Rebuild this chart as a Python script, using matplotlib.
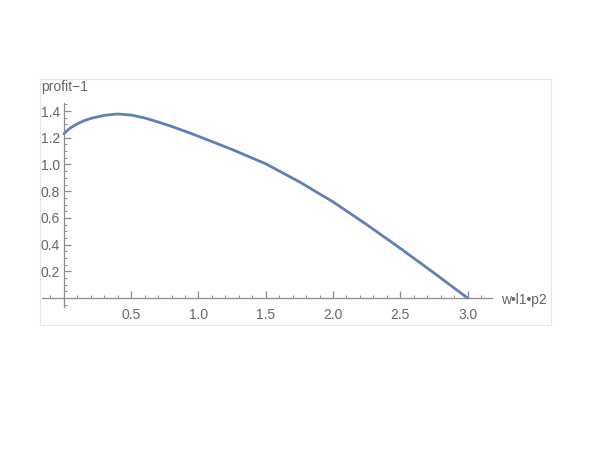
import numpy as np
from matplotlib import pyplot as plt
from matplotlib.ticker import FixedLocator
from matplotlib.patches import Rectangle

# values
x_vals = [0.0, 0.025, 0.05, 0.1, 0.15, 0.2, 0.3, 0.4, 0.5, 0.6, 0.7, 0.8, 0.9, 1.0,
          1.25, 1.5, 1.75, 2.0, 2.25, 2.5, 2.75, 3.0]
y_vals = [1.23, 1.255, 1.275, 1.305, 1.328, 1.345, 1.368, 1.378, 1.370, 1.348, 1.318, 1.285, 1.249, 1.211,
          1.112, 1.005, 0.870, 0.720, 0.550, 0.372, 0.188, 0.0]

x_major = [0.5, 1.0, 1.5, 2.0, 2.5, 3.0]
y_major = [0.2, 0.4, 0.6, 0.8, 1.0, 1.2, 1.4]

plt.rcParams['font.family'] = ['Liberation Sans', 'DejaVu Sans']

W, H = 600, 450
fig = plt.figure(figsize=(6, 4.5), dpi=100)

# faint frame around the plot region
fig.patches.append(Rectangle((40 / W, 1 - 325 / H), 511 / W, 246 / H, transform=fig.transFigure,
                             fill=False, edgecolor='#e6e6e6', linewidth=0.8))

ax = fig.add_axes([40 / W, 1 - 325 / H, 511 / W, 246 / H])
ax.set_xlim(-0.178, 3.62)
ax.set_ylim(-0.202, 1.64)
ax.patch.set_visible(False)

ax.plot(x_vals, y_vals, color='#5e81b5', linewidth=2.0, solid_capstyle='round', solid_joinstyle='round')

axis_col = '#8c8c8c'
for s in ['top', 'right']:
    ax.spines[s].set_visible(False)
ax.spines['left'].set_position(('data', 0))
ax.spines['bottom'].set_position(('data', 0))
ax.spines['left'].set_bounds(-0.07, 1.46)
ax.spines['bottom'].set_bounds(-0.16, 3.18)
for s in ['left', 'bottom']:
    ax.spines[s].set_color(axis_col)
    ax.spines[s].set_linewidth(0.9)

# minor ticks only inside the drawn axis lines
x_minor = [round(v, 2) for v in np.arange(-0.1, 3.15, 0.1) if abs(v) > 1e-9 and round(v, 2) not in x_major]
y_minor = [round(v, 2) for v in np.arange(-0.05, 1.46, 0.05) if abs(v) > 1e-9 and round(v, 2) not in y_major]

ax.xaxis.set_major_locator(FixedLocator(x_major))
ax.xaxis.set_minor_locator(FixedLocator(x_minor))
ax.yaxis.set_major_locator(FixedLocator(y_major))
ax.yaxis.set_minor_locator(FixedLocator(y_minor))
ax.set_xticklabels(['%.1f' % v for v in x_major])
ax.set_yticklabels(['%.1f' % v for v in y_major])

ax.tick_params(which='major', direction='in', length=5, width=0.9, color=axis_col,
               labelsize=10, labelcolor='#666666')
ax.tick_params(which='minor', direction='in', length=2.5, width=0.7, color=axis_col)
ax.tick_params(axis='x', which='major', pad=7)
ax.tick_params(axis='y', which='major', pad=3)

fig.text(41 / W, 1 - 87 / H, 'profit\u22121', fontsize=10, color='#666666', va='center', ha='left')
fig.text(501 / W, 1 - 300 / H, 'w\u2022l1\u2022p2', fontsize=10, color='#666666', va='center', ha='left')

fig.savefig('out.png', dpi=100)
